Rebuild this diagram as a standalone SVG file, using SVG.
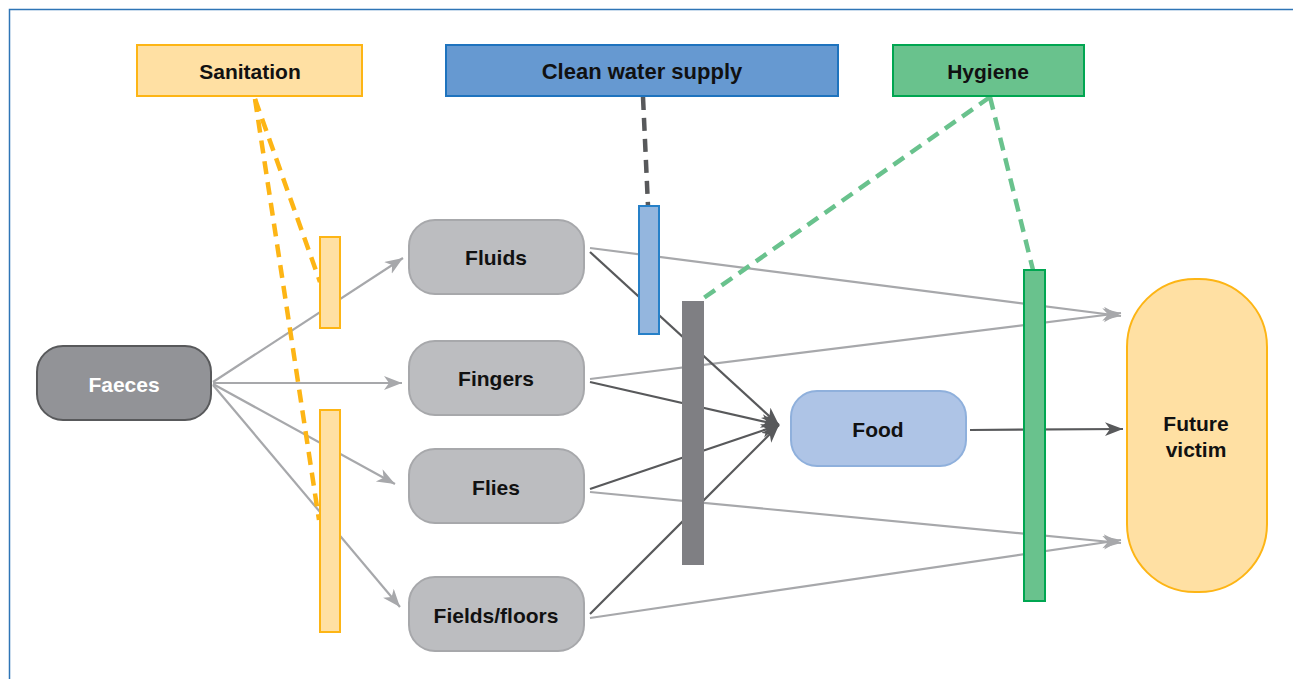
<svg xmlns="http://www.w3.org/2000/svg" width="1293" height="679" viewBox="0 0 1293 679">
<style>
text{font-family:"Liberation Sans",Arial,sans-serif;font-weight:bold;font-size:21px;text-anchor:middle;fill:#111}
.src{fill:#BCBDC0;stroke:#A7A8AB;stroke-width:2}
.lg{stroke:#A7A8AB;stroke-width:2.2;fill:none}
.dk{stroke:#58595B;stroke-width:2.2;fill:none}
.dash{fill:none;stroke-width:4.5;stroke-dasharray:13 8}
.san{fill:#FFE0A3;stroke:#FDB515;stroke-width:2}
.hyg{fill:#69C28D;stroke:#00A651;stroke-width:2}
</style>
<defs>
<marker id="ag" markerUnits="userSpaceOnUse" markerWidth="20" markerHeight="16" refX="18" refY="7" orient="auto"><path d="M0,0 L18,7 L0,14 L5,7 Z" fill="#A7A8AB"/></marker>
<marker id="ad" markerUnits="userSpaceOnUse" markerWidth="20" markerHeight="16" refX="18" refY="7" orient="auto"><path d="M0,0 L18,7 L0,14 L5,7 Z" fill="#58595B"/></marker>
</defs>
<rect x="9.5" y="9.5" width="1300" height="700" fill="#fff" stroke="#2E75B6" stroke-width="1.5"/>
<g id="connectors">
<line class="lg" x1="213" y1="382" x2="403" y2="258" marker-end="url(#ag)"/>
<line class="lg" x1="213" y1="383" x2="402" y2="383" marker-end="url(#ag)"/>
<line class="lg" x1="213" y1="384" x2="395" y2="484" marker-end="url(#ag)"/>
<line class="lg" x1="213" y1="385" x2="400" y2="607" marker-end="url(#ag)"/>
<line class="lg" x1="590" y1="248" x2="1121" y2="316" marker-end="url(#ag)"/>
<line class="lg" x1="590" y1="379" x2="1121" y2="313" marker-end="url(#ag)"/>
<line class="lg" x1="590" y1="492" x2="1121" y2="543" marker-end="url(#ag)"/>
<line class="lg" x1="590" y1="618" x2="1121" y2="540" marker-end="url(#ag)"/>
<line class="dk" x1="590" y1="252" x2="779" y2="425" marker-end="url(#ad)"/>
<line class="dk" x1="590" y1="382" x2="779" y2="425" marker-end="url(#ad)"/>
<line class="dk" x1="590" y1="489" x2="779" y2="425" marker-end="url(#ad)"/>
<line class="dk" x1="590" y1="614" x2="779" y2="425" marker-end="url(#ad)"/>
<line class="dk" x1="970" y1="430" x2="1123" y2="429" marker-end="url(#ad)"/>
<line class="dash" stroke="#FDB515" x1="255" y1="99" x2="320" y2="282"/>
<line class="dash" stroke="#FDB515" x1="255" y1="99" x2="319" y2="520"/>
<line class="dash" stroke="#58595B" x1="643" y1="97" x2="648" y2="206"/>
<line class="dash" stroke="#69C28D" x1="990" y1="97" x2="698" y2="302"/>
<line class="dash" stroke="#69C28D" x1="990" y1="97" x2="1033" y2="270"/>
</g>
<g id="sanitation"><rect class="san" x="137" y="45" width="225" height="51"/><text x="250" y="79">Sanitation</text></g>
<g id="clean-water"><rect x="446" y="45" width="392" height="51" fill="#6699D1" stroke="#1E73BE" stroke-width="2"/><text x="642" y="79" style="font-size:22px">Clean water supply</text></g>
<g id="hygiene"><rect class="hyg" x="893" y="45" width="191" height="51"/><text x="988" y="79">Hygiene</text></g>
<g id="barrier-san-1"><rect class="san" x="320" y="237" width="20" height="91"/></g>
<g id="barrier-san-2"><rect class="san" x="320" y="410" width="20" height="222"/></g>
<g id="barrier-water"><rect x="639" y="206" width="20" height="128" fill="#94B6DE" stroke="#2680C8" stroke-width="2"/></g>
<g id="barrier-grey"><rect x="682" y="301" width="22" height="264" fill="#7F7F83"/></g>
<g id="barrier-hyg"><rect class="hyg" x="1024" y="270" width="21" height="331"/></g>
<g id="faeces"><rect x="37" y="346" width="174" height="74" rx="26" fill="#929397" stroke="#58595B" stroke-width="2"/><text x="124" y="392" style="fill:#fff">Faeces</text></g>
<g id="fluids"><rect class="src" x="409" y="220" width="175" height="74" rx="26"/><text x="496" y="265">Fluids</text></g>
<g id="fingers"><rect class="src" x="409" y="341" width="175" height="74" rx="26"/><text x="496" y="386">Fingers</text></g>
<g id="flies"><rect class="src" x="409" y="449" width="175" height="74" rx="26"/><text x="496" y="495">Flies</text></g>
<g id="fields"><rect class="src" x="409" y="577" width="175" height="74" rx="26"/><text x="496" y="623">Fields/floors</text></g>
<g id="food"><rect x="791" y="391" width="175" height="75" rx="26" fill="#AEC4E6" stroke="#8FB0DC" stroke-width="2"/><text x="878" y="437">Food</text></g>
<g id="future-victim"><rect x="1127" y="279" width="140" height="313" rx="68" class="san"/><text x="1196" y="431">Future</text><text x="1196" y="457">victim</text></g>
</svg>
